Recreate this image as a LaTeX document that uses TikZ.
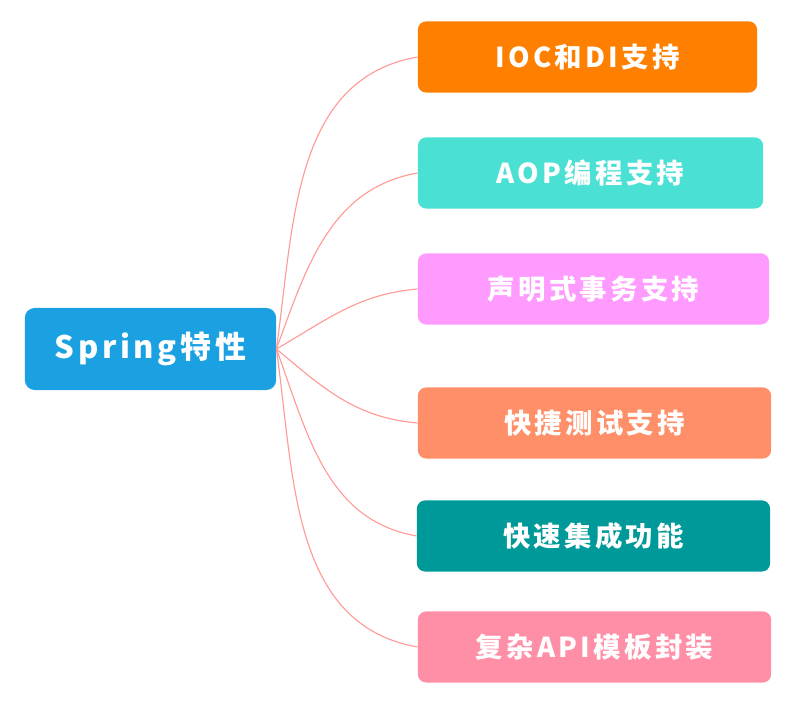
\documentclass[tikz,border=0pt]{standalone}
\usepackage{fontspec}
\setmainfont{Noto Sans CJK SC}
\newfontfamily\featfont[LetterSpace=12]{Noto Sans CJK SC}
\usetikzlibrary{positioning}
\definecolor{RootCol}{HTML}{1BA1E2}
\definecolor{LineCol}{HTML}{FF9A94}
\definecolor{IocCol}{HTML}{FF8000}
\definecolor{AopCol}{HTML}{4BE0D4}
\definecolor{TxCol}{HTML}{FF9BFF}
\definecolor{TestCol}{HTML}{FF8F68}
\definecolor{IntCol}{HTML}{009999}
\definecolor{ApiCol}{HTML}{FF8FA6}

\begin{document}
\begin{tikzpicture}[x=0.025cm,y=0.025cm]
  \tikzstyle{rootbox}=[rounded corners=7pt, fill=RootCol, text=white,
              minimum width=6.28cm, minimum height=2.05cm,
              font=\featfont\bfseries\fontsize{22}{26}\selectfont]
  \tikzstyle{featbox}=[rounded corners=6pt, text=white, minimum height=1.78cm,
              font=\featfont\bfseries\fontsize{19.5}{23}\selectfont]
  \tikzstyle{branch}=[draw=LineCol, line width=0.8pt]
  \useasboundingbox (0,0) rectangle (804,703);
  % root
  \node[rootbox] (spring) at (150.5,354) {Spring特性};
  % features
  \node[featbox, fill=IocCol, minimum width=8.48cm] (ioc) at (587.5,646) {IOC和DI支持};
  \node[featbox, fill=AopCol, minimum width=8.63cm] (aop) at (590.5,530) {AOP编程支持};
  \node[featbox, fill=TxCol, minimum width=8.78cm] (tx) at (593.5,414) {声明式事务支持};
  \node[featbox, fill=TestCol, minimum width=8.83cm] (test) at (594.5,280) {快捷测试支持};
  \node[featbox, fill=IntCol, minimum width=8.83cm] (integ) at (593.5,167) {快速集成功能};
  \node[featbox, fill=ApiCol, minimum width=8.83cm] (api) at (594.5,56) {复杂API模板封装};
  % branches
  \draw[branch] (spring.east) to[out=82,in=190] (ioc.west);
  \draw[branch] (spring.east) to[out=70,in=190] (aop.west);
  \draw[branch] (spring.east) to[out=30,in=185] (tx.west);
  \draw[branch] (spring.east) to[out=-40,in=175] (test.west);
  \draw[branch] (spring.east) to[out=-70,in=170] (integ.west);
  \draw[branch] (spring.east) to[out=-82,in=170] (api.west);
\end{tikzpicture}
\end{document}
